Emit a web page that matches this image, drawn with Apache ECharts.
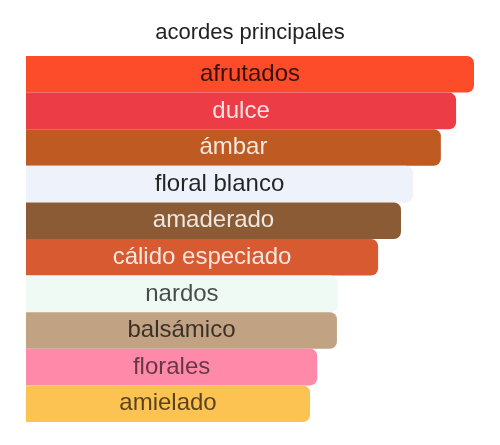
<!DOCTYPE html>
<html lang="es">
<head>
    <meta charset="UTF-8"/>
    <title>acordes principales</title>
    <script src="https://cdn.jsdelivr.net/npm/echarts@6/dist/echarts.min.js"></script>
    <style>
        html, body { margin: 0; padding: 0; background: #ffffff; }
        #main { width: 500px; height: 445px; }
    </style>
</head>
<body>
<div id="main"></div>
<script type="text/javascript">
    // acordes, de arriba a abajo
    var acordes = ['afrutados', 'dulce', 'ámbar', 'floral blanco', 'amaderado',
        'cálido especiado', 'nardos', 'balsámico', 'florales', 'amielado'];
    // intensidad relativa (%)
    var valores = [100, 96, 92.6, 86.4, 83.7, 78.6, 69.6, 69.4, 65, 63.4];
    var colores = ['#fc4c2a', '#ec3c46', '#bf5a22', '#eef2fa', '#8a5b34',
        '#d75a31', '#effaf4', '#c1a283', '#ff89a9', '#fcc352'];
    var colorTexto = ['rgba(0,0,0,0.78)', 'rgba(255,255,255,0.85)', 'rgba(255,255,255,0.85)',
        'rgba(0,0,0,0.85)', 'rgba(255,255,255,0.85)', 'rgba(255,255,255,0.85)',
        'rgba(0,0,0,0.7)', 'rgba(0,0,0,0.7)', 'rgba(0,0,0,0.6)', 'rgba(0,0,0,0.65)'];

    var myChart = echarts.init(document.getElementById('main'));

    var datos = valores.map(function (v, i) {
        return {
            value: v,
            itemStyle: { color: colores[i] },
            label: { color: colorTexto[i] }
        };
    });

    var option = {
        animation: false,
        backgroundColor: '#ffffff',
        title: {
            text: 'acordes principales',
            left: 'center',
            top: 17,
            textStyle: {
                fontFamily: "'Liberation Sans', Arial, sans-serif",
                fontSize: 22,
                fontWeight: 'normal',
                color: '#222222'
            }
        },
        grid: { left: 26, top: 56, width: 448, height: 366, containLabel: false },
        xAxis: {
            type: 'value',
            min: 0,
            max: 100,
            show: false
        },
        yAxis: {
            type: 'category',
            data: acordes,
            inverse: true,
            show: false
        },
        series: [{
            type: 'bar',
            data: datos,
            barWidth: '100%',
            barCategoryGap: 0,
            itemStyle: { borderRadius: [0, 7, 7, 0] },
            label: {
                show: true,
                position: 'inside',
                formatter: function (p) { return acordes[p.dataIndex]; },
                fontFamily: "'Liberation Sans', Arial, sans-serif",
                fontSize: 24
            }
        }]
    };

    myChart.setOption(option);
</script>
</body>
</html>
